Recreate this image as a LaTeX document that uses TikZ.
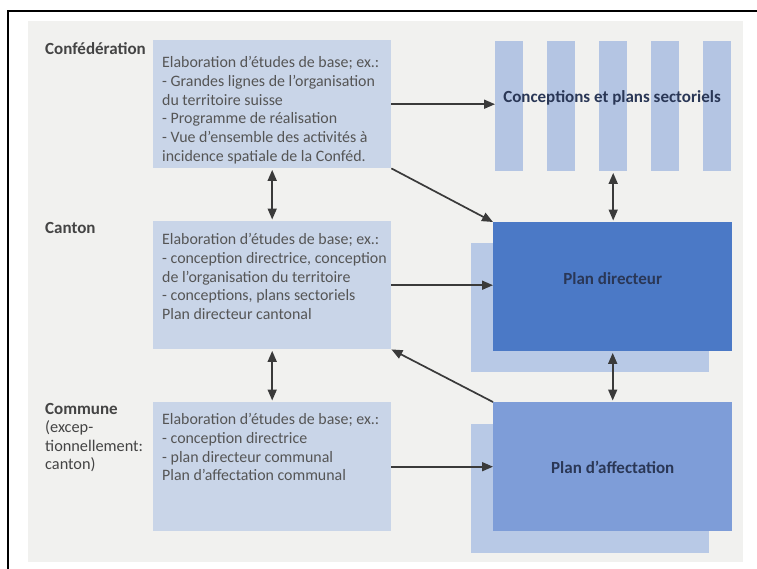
\documentclass[tikz,border=0pt]{standalone}
\usepackage{fontspec}
\setmainfont{Carlito}
\usetikzlibrary{arrows.meta}
\definecolor{bgc}{HTML}{F1F1EF}
\definecolor{lightbox}{HTML}{C9D5E8}
\definecolor{barblue}{HTML}{B4C5E3}
\definecolor{darkblue}{HTML}{4B79C6}
\definecolor{midblue}{HTML}{7E9DD8}
\definecolor{shadowblue}{HTML}{B8C9E6}
\definecolor{navy}{HTML}{2A3756}
\definecolor{txt}{HTML}{555555}
\definecolor{lbl}{HTML}{444444}
\definecolor{arrc}{HTML}{3A3A3A}
\begin{document}
\begin{tikzpicture}[x=1pt,y=-1pt,
  lvlbox/.style={fill=lightbox, draw=none, anchor=north west, inner sep=0pt, minimum width=238pt, minimum height=128pt},
  barbox/.style={fill=barblue, draw=none, anchor=north west, inner sep=0pt, minimum width=28pt, minimum height=130pt},
  planbox/.style={draw=none, anchor=north west, inner sep=0pt, minimum width=239pt, minimum height=129pt},
  shadowbox/.style={fill=shadowblue, draw=none, anchor=north west, inner sep=0pt, minimum width=238pt, minimum height=129pt},
  boxtext/.style={anchor=north west, inner sep=0pt, align=left, text=txt, font=\fontsize{15.9}{18.8}\selectfont},
  lvllabel/.style={anchor=north west, inner sep=0pt, align=left, text=lbl, font=\fontsize{16.3}{18.5}\selectfont},
  plantext/.style={text=navy, font=\fontsize{17}{18}\selectfont\bfseries, inner sep=0pt},
  tip/.style={Triangle[length=11pt,width=9pt]},
  conn/.style={draw=arrc, line width=1.7pt, -{Triangle[length=11pt,width=9pt]}},
  dconn/.style={draw=arrc, line width=1.7pt, {Triangle[length=11pt,width=9pt]}-{Triangle[length=11pt,width=9pt]}, shorten <=1.5pt, shorten >=1.5pt}
]
\useasboundingbox (0,0) rectangle (757,568);
\fill[white] (0,0) rectangle (757,568);
\fill[bgc] (28,21) rectangle (743,562);
\draw[black, line width=1.5pt] (8,570) -- (8,11) -- (760,11);

% level boxes
\node[lvlbox] (conf) at (153,40) {};
\node[lvlbox] (cant) at (153,221) {};
\node[lvlbox, minimum height=129pt] (comm) at (153,402) {};

% level labels
\node[lvllabel] (lconf) at (45,42) {\fontsize{17}{18.5}\selectfont\bfseries Confédération};
\node[lvllabel] (lcant) at (45,222) {\fontsize{17}{18.5}\selectfont\bfseries Canton};
\node[lvllabel] (lcomm) at (45,403) {{\fontsize{17}{18.5}\selectfont\bfseries Commune}\\(excep-\\tionnellement:\\canton)};

% box texts
\node[boxtext] (tconf) at (162,56) {Elaboration d’études de base; ex.:\\- Grandes lignes de l’organisation\\du territoire suisse\\- Programme de réalisation\\- Vue d’ensemble des activités à\\incidence spatiale de la Conféd.};
\node[boxtext] (tcant) at (162,233) {Elaboration d’études de base; ex.:\\- conception directrice, conception\\de l’organisation du territoire\\- conceptions, plans sectoriels\\Plan directeur cantonal};
\node[boxtext] (tcomm) at (162,413) {Elaboration d’études de base; ex.:\\- conception directrice\\- plan directeur communal\\Plan d’affectation communal};

% sector bars
\node[barbox] (bar1) at (495,41) {};
\node[barbox] (bar2) at (547,41) {};
\node[barbox] (bar3) at (599,41) {};
\node[barbox] (bar4) at (651,41) {};
\node[barbox] (bar5) at (703,41) {};
\node[plantext] (tsect) at (612,98) {Conceptions et plans sectoriels};

% plan boxes
\node[shadowbox] (pdsh) at (471,243) {};
\node[planbox, fill=darkblue] (pd) at (493,222) {};
\node[plantext] (tpd) at ([yshift=8pt]pd.center) {Plan directeur};
\node[shadowbox] (pash) at (471,424) {};
\node[planbox, fill=midblue] (pa) at (493,402) {};
\node[plantext] (tpa) at ([yshift=-1pt]pa.center) {Plan d’affectation};

% connectors
\draw[conn] (conf.east) -- (bar1.west |- conf.east);
\draw[conn] (conf.south east) -- (pd.north west);
\draw[conn] (cant.east) -- (pd.west |- cant.east);
\draw[conn] (pa.north west) -- (cant.south east);
\draw[conn] (comm.east) -- (pa.west |- comm.east);
\draw[dconn] (conf.south) -- (cant.north);
\draw[dconn] (cant.south) -- (comm.north);
\draw[dconn] (bar3.south) -- (bar3.south |- pd.north);
\draw[dconn] (pd.south) -- (pa.north);
\end{tikzpicture}
\end{document}
